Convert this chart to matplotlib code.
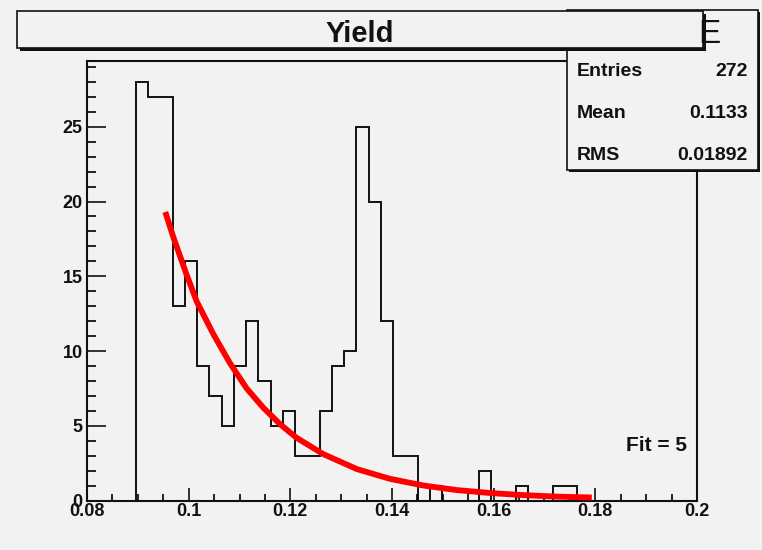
import numpy as np
import matplotlib
matplotlib.use('Agg')
import matplotlib.pyplot as plt
from matplotlib.patches import Rectangle
from matplotlib.ticker import MultipleLocator, FuncFormatter

# histogram "Yield" (ROOT style)
bin_lo = 0.0896
bin_width = 0.002412
counts = [28, 27, 27, 13, 16, 9, 7, 5, 9, 12, 8, 5, 6, 3, 3, 6, 9, 10,
          25, 20, 12, 3, 3, 0, 1, 0, 0, 0, 2, 0, 0, 1, 0, 0, 1, 1]

# fit curve, points
fit_x = [0.0954, 0.0970, 0.0996, 0.1016, 0.1049, 0.1081, 0.1114, 0.1147,
         0.1180, 0.1212, 0.1265, 0.1331, 0.1396, 0.1462, 0.1527, 0.1593,
         0.1658, 0.1724, 0.1793]
fit_y = [19.3, 17.6, 15.1, 13.3, 11.1, 9.2, 7.5, 6.2, 5.1, 4.2, 3.1, 2.1,
         1.45, 1.0, 0.7, 0.5, 0.36, 0.26, 0.2]

stats_names = ['Entries', 'Mean', 'RMS']
stats_values = ['272', '0.1133', '0.01892']

BG = '#f2f2f2'
INK = '#111111'
W, H = 762, 550
plt.rcParams['font.family'] = ['Liberation Sans', 'DejaVu Sans']
plt.rcParams['font.weight'] = 'bold'


def fx(x):
    return x / W


def fy(y):
    return 1 - y / H


fig = plt.figure(figsize=(W / 100, H / 100), dpi=100, facecolor=BG)
ax = fig.add_axes([fx(87), fy(500.5), (697 - 87) / W, (500.5 - 61) / H])
ax.set_facecolor(BG)

edges = bin_lo + bin_width * np.arange(len(counts) + 1)
ax.stairs(counts, edges, color=INK, lw=1.4, baseline=0)
ax.plot(fit_x, fit_y, color='#ff0000', lw=4.2, solid_capstyle='butt',
        solid_joinstyle='round', zorder=3)

ax.set_xlim(0.08, 0.2)
ax.set_ylim(0, 29.4)
ax.xaxis.set_major_locator(MultipleLocator(0.02))
ax.xaxis.set_minor_locator(MultipleLocator(0.005))
ax.yaxis.set_major_locator(MultipleLocator(5))
ax.yaxis.set_minor_locator(MultipleLocator(1))
ax.xaxis.set_major_formatter(FuncFormatter(lambda v, p: '%g' % round(v, 4)))
ax.yaxis.set_major_formatter(FuncFormatter(lambda v, p: '%g' % v))

ax.tick_params(axis='x', which='major', direction='in', length=9.5, width=1.2,
               pad=2, labelsize=13, colors=INK)
ax.tick_params(axis='x', which='minor', direction='in', length=5, width=1.2)
ax.tick_params(axis='y', which='major', direction='in', length=13.5, width=1.2,
               pad=3, labelsize=13, colors=INK)
ax.tick_params(axis='y', which='minor', direction='in', length=6.8, width=1.2)
for s in ax.spines.values():
    s.set_linewidth(1.5)
    s.set_color(INK)

ax.text(0.1981, 3.3, 'Fit = 5', ha='right', va='baseline', fontsize=15,
        color=INK)


def pave(x0, y0, x1, y1, shadow=3):
    fig.patches.append(Rectangle((fx(x0 + shadow), fy(y1 + shadow)),
                                 (x1 - x0) / W, (y1 - y0) / H,
                                 transform=fig.transFigure, facecolor=INK,
                                 edgecolor='none', zorder=2))
    fig.patches.append(Rectangle((fx(x0), fy(y1)), (x1 - x0) / W, (y1 - y0) / H,
                                 transform=fig.transFigure, facecolor=BG,
                                 edgecolor=INK, lw=1.2, zorder=2))


# stats box
pave(567, 10, 758, 170, shadow=2)
fig.add_artist(plt.Line2D([fx(567), fx(758)], [fy(50), fy(50)], color=INK,
                          lw=1.2, zorder=2))
fig.text(fx(698), fy(43), 'E', fontsize=24, weight='normal', color=INK,
         ha='left', va='baseline', zorder=2.5)
for i, (name, val) in enumerate(zip(stats_names, stats_values)):
    yb = 76 + i * 42
    fig.text(fx(577), fy(yb), name, fontsize=14, color=INK, ha='left',
             va='baseline', zorder=4)
    fig.text(fx(748), fy(yb), val, fontsize=14, color=INK, ha='right',
             va='baseline', zorder=4)

# title box
pave(17, 11, 703, 48, shadow=3)
fig.text(fx(360), fy(42.5), 'Yield', fontsize=21, color=INK, ha='center',
         va='baseline', zorder=4)

fig.savefig('out.png', dpi=100, facecolor=BG)
